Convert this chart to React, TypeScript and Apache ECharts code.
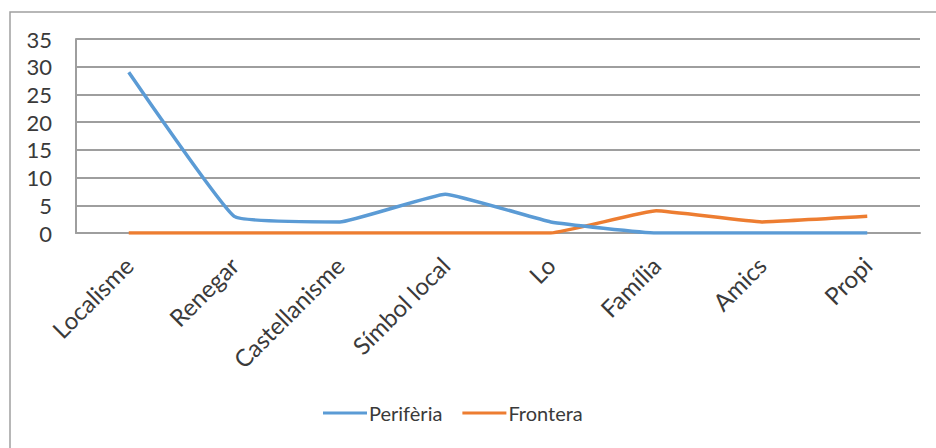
import React, { useEffect, useRef } from "react";
import * as echarts from "echarts";

const categories = ["Localisme", "Renegar", "Castellanisme", "Símbol local", "Lo", "Família", "Amics", "Propi"];
const periferia = [29, 3, 2, 7, 2, 0, 0, 0];
const frontera = [0, 0, 0, 0, 0, 4, 2, 3];
const yTicks = { min: 0, max: 35, interval: 5 };

const FONT = "Lato, 'Liberation Sans', sans-serif";
const TEXT = "#3a3a3a";
const GRID = "#9e9e9e";

export default function App() {
  const ref = useRef<HTMLDivElement>(null);

  useEffect(() => {
    if (!ref.current) return;
    const chart = echarts.init(ref.current, undefined, { renderer: "svg" });
    chart.setOption({
      animation: false,
      backgroundColor: "#ffffff",
      textStyle: { fontFamily: FONT },
      graphic: [
        {
          type: "rect",
          shape: { x: 10, y: 12, width: 960, height: 480 },
          style: { fill: "none", stroke: "#a0a0a0", lineWidth: 1.5 },
          silent: true,
        },
      ],
      grid: { left: 76, top: 39, width: 844, height: 194, containLabel: false },
      legend: {
        left: 318,
        top: 398,
        itemWidth: 44,
        itemHeight: 3,
        itemGap: 20,
        icon: "rect",
        textStyle: { fontFamily: FONT, fontSize: 20, color: TEXT, padding: [0, 0, 0, -3] },
        data: ["Perifèria", "Frontera"],
      },
      xAxis: {
        type: "category",
        data: categories,
        boundaryGap: true,
        axisLine: { show: true, lineStyle: { color: GRID, width: 2 } },
        axisTick: { show: false },
        axisLabel: {
          rotate: 45,
          interval: 0,
          margin: 28,
          fontFamily: FONT,
          fontSize: 24,
          color: TEXT,
        },
      },
      yAxis: {
        type: "value",
        min: yTicks.min,
        max: yTicks.max,
        interval: yTicks.interval,
        axisLine: { show: true, lineStyle: { color: GRID, width: 2 } },
        axisTick: { show: false },
        splitLine: { show: true, lineStyle: { color: GRID, width: 2 } },
        axisLabel: { margin: 24, fontFamily: FONT, fontSize: 22, color: TEXT },
      },
      series: [
        {
          name: "Perifèria",
          type: "line",
          data: periferia,
          showSymbol: false,
          smooth: 0.1,
          color: "#5b9bd5",
          lineStyle: { width: 3.5, color: "#5b9bd5" },
          z: 3,
        },
        {
          name: "Frontera",
          type: "line",
          data: frontera,
          showSymbol: false,
          smooth: 0.1,
          color: "#ed7d31",
          lineStyle: { width: 3.5, color: "#ed7d31" },
          z: 2,
        },
      ],
    });
    return () => chart.dispose();
  }, []);

  return (
    <div
      ref={ref}
      style={{ position: "absolute", left: 0, top: 0, width: 936, height: 448 }}
    />
  );
}
